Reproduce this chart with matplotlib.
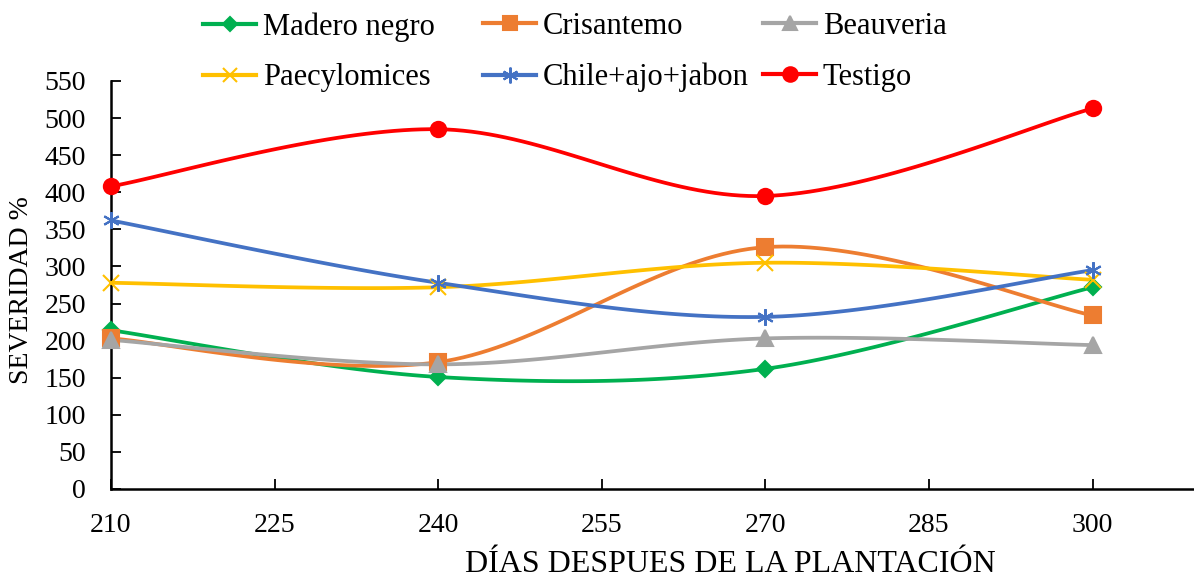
import numpy as np
import matplotlib
matplotlib.use('Agg')
import matplotlib.pyplot as plt
from matplotlib.lines import Line2D

plt.rcParams['font.family'] = ['Liberation Serif', 'DejaVu Serif']

# Data
dias = [210, 240, 270, 300]
madero = [214, 151, 162, 272]
crisantemo = [203, 171, 326, 234]
beauveria = [201, 168, 203, 194]
paecylomices = [278, 272, 305, 282]
chile = [362, 278, 232, 295]
testigo = [408, 485, 395, 513]

names = ['Madero negro', 'Crisantemo', 'Beauveria',
         'Paecylomices', 'Chile+ajo+jabon', 'Testigo']
series = [madero, crisantemo, beauveria, paecylomices, chile, testigo]
colors = ['#00B050', '#ED7D31', '#A5A5A5', '#FFC000', '#4472C4', '#FF0000']
markers = ['D', 's', '^', 'x', (6, 2, 0), 'o']
msizes = [8, 11, 11, 11, 12, 11]


def smooth(x, y, n=40):
    """Excel-like smoothed line: cubic Bezier through points (Catmull-Rom, 1/6)."""
    x = np.asarray(x, float)
    y = np.asarray(y, float)
    px = np.concatenate([[x[0]], x, [x[-1]]])
    py = np.concatenate([[y[0]], y, [y[-1]]])
    t = np.linspace(0, 1, n)
    xs, ys = [], []
    for i in range(1, len(px) - 2):
        p0 = np.array([px[i], py[i]])
        p3 = np.array([px[i + 1], py[i + 1]])
        c1 = p0 + (np.array([px[i + 1], py[i + 1]]) - np.array([px[i - 1], py[i - 1]])) / 6
        c2 = p3 - (np.array([px[i + 2], py[i + 2]]) - np.array([px[i], py[i]])) / 6
        b = ((1 - t) ** 3)[:, None] * p0 + (3 * (1 - t) ** 2 * t)[:, None] * c1 \
            + (3 * (1 - t) * t ** 2)[:, None] * c2 + (t ** 3)[:, None] * p3
        xs.append(b[:, 0])
        ys.append(b[:, 1])
    return np.concatenate(xs), np.concatenate(ys)


W, H = 1194, 578
fig = plt.figure(figsize=(W / 100, H / 100), dpi=100)
ax = fig.add_axes([111 / W, 1 - 489 / H, (W - 111) / W, (489 - 81) / H])

for vals, c, m, ms in zip(series, colors, markers, msizes):
    sx, sy = smooth(dias, vals)
    ax.plot(sx, sy, color=c, lw=2.7, zorder=2)
    ax.plot(dias, vals, ls='none', marker=m, ms=ms, color=c, mec=c,
            mew=1.5, zorder=3, clip_on=False)

ax.set_xlim(210, 309.3)
ax.set_ylim(0, 550)
ax.set_xticks(np.arange(210, 301, 15))
ax.set_yticks(np.arange(0, 551, 50))
for s in ['top', 'right']:
    ax.spines[s].set_visible(False)
ax.spines['left'].set_linewidth(1.8)
ax.spines['bottom'].set_linewidth(1.8)
ax.tick_params(axis='x', direction='in', length=7, width=1.3, pad=17, labelsize=20)
ax.tick_params(axis='y', direction='in', length=7, width=1.3, pad=18, labelsize=20)
fig.text(730 / W, 1 - 565 / H, 'DÍAS DESPUES DE LA PLANTACIÓN', fontsize=23,
         ha='center', va='center')
fig.text(22 / W, 1 - 290 / H, 'SEVERIDAD %', fontsize=20, rotation=90,
         ha='center', va='center')

# legend: three columns of two entries each
for col in range(3):
    hs = []
    for row in range(2):
        k = row * 3 + col
        hs.append(Line2D([], [], color=colors[k], lw=3, marker=markers[k],
                         ms=msizes[k] * 0.95, mec=colors[k], mew=1.5, label=names[k]))
    fig.legend(handles=hs, loc='upper left',
               bbox_to_anchor=((203 + 280 * col) / W, 1 - 12 / H),
               frameon=False, fontsize=22, handlelength=1.75, handletextpad=0.2,
               labelspacing=0.72, borderpad=0, borderaxespad=0)

fig.savefig('out.png', dpi=100)
